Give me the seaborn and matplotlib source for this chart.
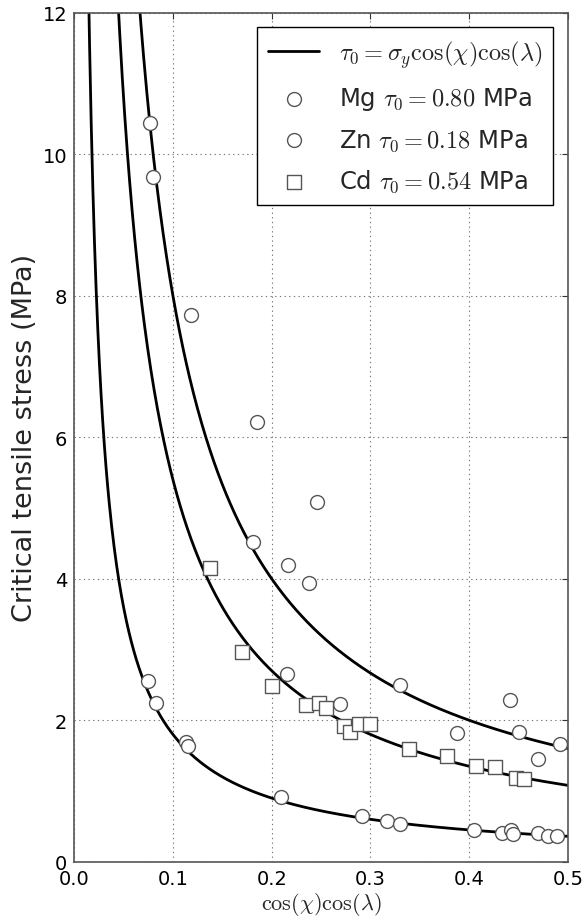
import numpy as np
import pandas as pd
import matplotlib
matplotlib.use("Agg")
import matplotlib.pyplot as plt
import seaborn as sns

# ---- data ----
tau0_values = [0.80, 0.54, 0.18]          # Mg, Cd, Zn critical resolved shear stress (MPa)

mg_x = [0.077, 0.080, 0.118, 0.185, 0.246, 0.181, 0.216, 0.238, 0.215, 0.269,
        0.330, 0.388, 0.441, 0.450, 0.470, 0.492]
mg_y = [10.44, 9.68, 7.73, 6.21, 5.08, 4.52, 4.19, 3.94, 2.65, 2.23,
        2.50, 1.82, 2.29, 1.84, 1.45, 1.66]

zn_x = [0.075, 0.083, 0.113, 0.115, 0.209, 0.2915, 0.317, 0.330, 0.405, 0.433,
        0.442, 0.444, 0.470, 0.480, 0.489]
zn_y = [2.55, 2.24, 1.70, 1.63, 0.91, 0.64, 0.58, 0.54, 0.45, 0.41,
        0.45, 0.39, 0.40, 0.36, 0.36]

cd_x = [0.138, 0.170, 0.200, 0.235, 0.248, 0.255, 0.273, 0.279, 0.288, 0.300,
        0.339, 0.377, 0.407, 0.426, 0.447, 0.455]
cd_y = [4.15, 2.96, 2.48, 2.22, 2.24, 2.17, 1.92, 1.83, 1.95, 1.95,
        1.60, 1.50, 1.35, 1.34, 1.18, 1.17]

x_ticks = [0.0, 0.1, 0.2, 0.3, 0.4, 0.5]
y_ticks = [0, 2, 4, 6, 8, 10, 12]

line_label = r"$\tau_0 = \sigma_y \cos(\chi)\cos(\lambda)$"
mg_label = r"Mg $\tau_0 = 0.80$ MPa"
zn_label = r"Zn $\tau_0 = 0.18$ MPa"
cd_label = r"Cd $\tau_0 = 0.54$ MPa"

# ---- style ----
sns.set_style("white")
plt.rcParams["font.family"] = ["DejaVu Sans"]
plt.rcParams["mathtext.fontset"] = "cm"

fig = plt.figure(figsize=(5.84, 9.2), dpi=100)
ax = fig.add_axes([0.127, 0.0622, 0.8456, 0.9228])

# model curves sigma = tau0 / m
m = np.linspace(0.004, 0.5, 600)
for i, t in enumerate(tau0_values):
    df = pd.DataFrame({"m": m, "s": t / m})
    sns.lineplot(data=df, x="m", y="s", ax=ax, color="black", lw=2.0,
                 label=line_label if i == 0 else None, legend=False, zorder=2)

mk = dict(facecolor="white", edgecolor="#555555", linewidth=1.0, zorder=3)
sns.scatterplot(x=mg_x, y=mg_y, marker="o", s=100, ax=ax, label=mg_label, **mk)
sns.scatterplot(x=zn_x, y=zn_y, marker="o", s=100, ax=ax, label=zn_label, **mk)
sns.scatterplot(x=cd_x, y=cd_y, marker="s", s=100, ax=ax, label=cd_label, **mk)

ax.set_xlim(0, 0.5)
ax.set_ylim(0, 12)
ax.set_xticks(x_ticks)
ax.set_xticklabels([f"{v:.1f}" for v in x_ticks])
ax.set_yticks(y_ticks)
ax.set_yticklabels([str(v) for v in y_ticks])
ax.tick_params(direction="in", length=4, width=0.8, top=True, right=True,
               labelsize=14, colors="#333333", labelcolor="black", pad=5)
ax.grid(True, linestyle=(0, (1.2, 3.0)), color="#777777", linewidth=0.8)
for sp in ax.spines.values():
    sp.set_color("#555555")
    sp.set_linewidth(1.2)

ax.set_xlabel(r"$\cos(\chi)\cos(\lambda)$", fontsize=16, labelpad=2)
ax.set_ylabel("Critical tensile stress (MPa)", fontsize=19.5, labelpad=3)

h, l = ax.get_legend_handles_labels()
leg = ax.legend(h, l, loc="upper right", fontsize=17.5, frameon=True,
                fancybox=False, framealpha=1, edgecolor="black",
                handlelength=2.1, borderaxespad=0.6, labelspacing=0.62,
                handletextpad=0.8, borderpad=0.45)
leg.get_frame().set_linewidth(1.0)

fig.savefig("out.png", dpi=100)
